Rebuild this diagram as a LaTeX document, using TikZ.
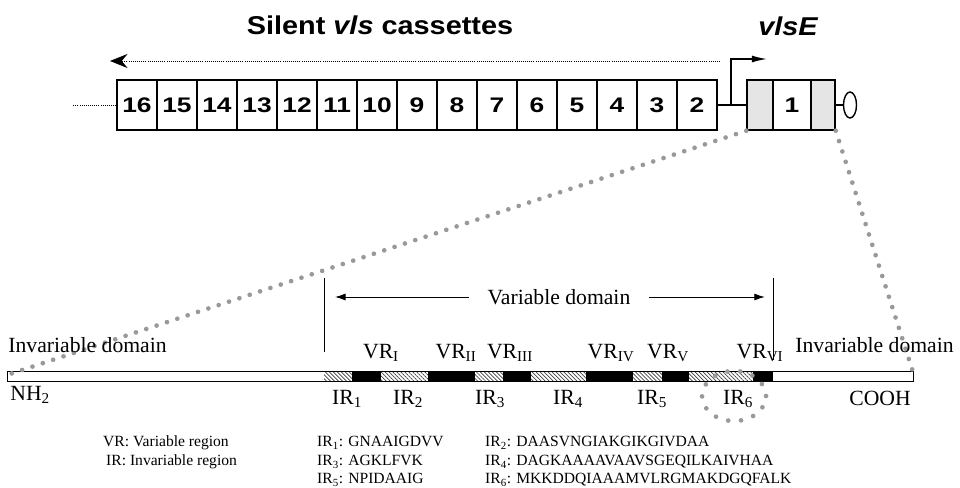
\documentclass[tikz,border=0pt]{standalone}
\usepackage{fontspec}
\setmainfont{Liberation Serif}
\newfontfamily\cassfont[FakeStretch=1.25]{Liberation Sans}
\newfontfamily\headfont[FakeStretch=1.12]{Liberation Sans}
\usetikzlibrary{arrows.meta,patterns.meta,shapes.geometric}

\begin{document}
\begin{tikzpicture}[x=.03cm,y=-.03cm,
  cas/.style={draw,line width=1.2pt,minimum width=1.2cm,minimum height=1.5cm,inner sep=0pt,
    font=\fontsize{18}{18}\selectfont\cassfont\bfseries},
  head/.style={font=\fontsize{22}{24}\selectfont\headfont\bfseries},
  lab/.style={font=\fontsize{18.5}{20}\selectfont,inner sep=1pt},
  leg/.style={font=\fontsize{13.3}{15}\selectfont,anchor=west,inner sep=0pt},
  ir/.style={preaction={fill=white},pattern={Lines[angle=-45,distance=2.4pt,line width=.6pt]},pattern color=black!75},
  zoomdots/.style={draw=black!40,line width=4pt,line cap=round,dash pattern=on 0pt off 9.3pt}]
\useasboundingbox (0,0) rectangle (960,488);
% headings
\node[head] (silent) at (380,25) {Silent \textit{vls} cassettes};
\node[head] (vlse) at (788,26) {\itshape vlsE};
% silent cassettes
\node[cas] (c16) at (137,105) {16};
\node[cas] (c15) at (177,105) {15};
\node[cas] (c14) at (217,105) {14};
\node[cas] (c13) at (257,105) {13};
\node[cas] (c12) at (297,105) {12};
\node[cas] (c11) at (337,105) {11};
\node[cas] (c10) at (377,105) {10};
\node[cas] (c9) at (417,105) {9};
\node[cas] (c8) at (457,105) {8};
\node[cas] (c7) at (497,105) {7};
\node[cas] (c6) at (537,105) {6};
\node[cas] (c5) at (577,105) {5};
\node[cas] (c4) at (617,105) {4};
\node[cas] (c3) at (657,105) {3};
\node[cas] (c2) at (697,105) {2};
\draw[densely dotted,line width=.8pt] (c16.west) -- ++(-43,0);
\coordinate (silentR) at (720,61);
\coordinate (silentL) at (110,61);
\draw[densely dotted,line width=.8pt,-{Stealth[length=15pt,width=12pt,inset=5pt]}] (silentR) -- (silentL);
% expression site
\node[cas,fill=black!10,minimum width=.78cm] (e1a) at (760,105) {};
\node[cas,minimum width=1.14cm] (e1) at (792,105) {1};
\node[cas,fill=black!10,minimum width=.72cm] (e1b) at (823,105) {};
\node[draw,line width=1.2pt,ellipse,inner sep=0pt,minimum width=.39cm,minimum height=.78cm] (tail) at (850,105) {};
\draw[line width=1.2pt] (c2.east) -- (e1a.west);
\draw[line width=1.2pt] (e1b.east) -- (tail.west);
\coordinate (prom) at (731,105);
\coordinate (promtip) at (767,59);
\draw[line width=1.2pt,-{Latex[length=13pt,width=6pt]}] (prom) |- (promtip);
% VlsE protein
\path[fill=white] (7,371) rectangle (324,381);
\path[ir] (324,371) rectangle (352,381);
\path[fill=black] (352,371) rectangle (381,381);
\path[ir] (381,371) rectangle (428,381);
\path[fill=black] (428,371) rectangle (475,381);
\path[ir] (475,371) rectangle (503,381);
\path[fill=black] (503,371) rectangle (531,381);
\path[ir] (531,371) rectangle (586,381);
\path[fill=black] (586,371) rectangle (633,381);
\path[ir] (633,371) rectangle (662,381);
\path[fill=black] (662,371) rectangle (689,381);
\path[ir] (689,371) rectangle (753,381);
\path[fill=black] (753,371) rectangle (773,381);
\draw[line width=.8pt] (7,371) rectangle (913,381);
\coordinate (nterm) at (7,375);
\coordinate (cterm) at (913,372);
\draw[zoomdots] (e1a.south west) -- (nterm);
\draw[zoomdots] (e1b.south east) -- (cterm);
\draw[zoomdots,dash pattern=on 0pt off 11pt] (734,396) ellipse [x radius=.96cm,y radius=.75cm];
% variable domain
\coordinate (vdl) at (324,278);
\coordinate (vdr) at (773,278);
\draw[line width=.8pt] (vdl) -- ++(0,74);
\draw[line width=.8pt] (vdr) -- ++(0,82);
\node[lab,inner xsep=16pt] (vd) at (559,297) {Variable domain};
\draw[line width=.8pt,shorten >=9.4pt,-{Latex[length=9pt,width=6pt]}] (vd.west) -- (vd.west -| vdl);
\draw[line width=.8pt,shorten >=7pt,-{Latex[length=9pt,width=6pt]}] (vd.east) -- (vd.east -| vdr);
\node[lab,anchor=west] (invn) at (7,345) {Invariable domain};
\node[lab,anchor=west] (invc) at (794,345) {Invariable domain};
\node[lab,anchor=west] (nh) at (9,395) {NH\textsubscript{2}};
\node[lab] (cooh) at (880,398) {COOH};
\node[lab] (vr1) at (381,353) {VR\textsubscript{I}};
\node[lab] (vr2) at (456,353) {VR\textsubscript{II}};
\node[lab] (vr3) at (510,353) {VR\textsubscript{III}};
\node[lab] (vr4) at (611,353) {VR\textsubscript{IV}};
\node[lab] (vr5) at (668,353) {VR\textsubscript{V}};
\node[lab] (vr6) at (760,353) {VR\textsubscript{VI}};
\node[lab] (ir1) at (347,399) {IR\textsubscript{1}};
\node[lab] (ir2) at (408,399) {IR\textsubscript{2}};
\node[lab] (ir3) at (490,399) {IR\textsubscript{3}};
\node[lab] (ir4) at (568,399) {IR\textsubscript{4}};
\node[lab] (ir5) at (652,399) {IR\textsubscript{5}};
\node[lab] (ir6) at (738,399) {IR\textsubscript{6}};
% legend
\node[leg] (vrkey) at (103,443) {VR: Variable region};
\node[leg] (irkey) at (106,462) {IR: Invariable region};
\node[leg] (seq1) at (317,443) {IR\textsubscript{1}: GNAAIGDVV};
\node[leg] (seq3) at (317,462) {IR\textsubscript{3}: AGKLFVK};
\node[leg] (seq5) at (317,480) {IR\textsubscript{5}: NPIDAAIG};
\node[leg] (seq2) at (485,443) {IR\textsubscript{2}: DAASVNGIAKGIKGIVDAA};
\node[leg] (seq4) at (485,462) {IR\textsubscript{4}: DAGKAAAAVAAVSGEQILKAIVHAA};
\node[leg] (seq6) at (485,480) {IR\textsubscript{6}: MKKDDQIAAAMVLRGMAKDGQFALK};
\end{tikzpicture}
\end{document}
